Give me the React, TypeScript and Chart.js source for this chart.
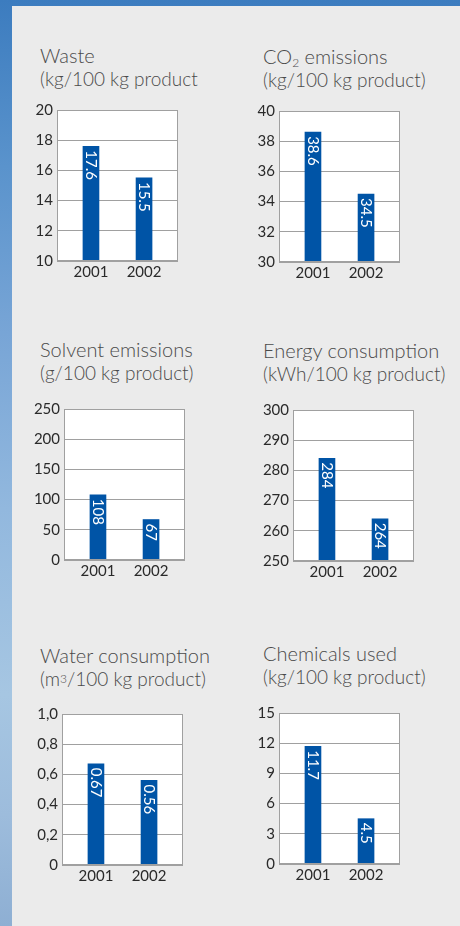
import React, { useEffect, useRef } from "react";
import { Chart, registerables } from "chart.js";

Chart.register(...registerables);

const years = ["2001", "2002"];

const wasteValues = [17.6, 15.5];
const wasteTicks = [10, 12, 14, 16, 18, 20];
const wasteTickLabels = ["10", "12", "14", "16", "18", "20"];

const co2Values = [38.6, 34.5];
const co2Ticks = [30, 32, 34, 36, 38, 40];
const co2TickLabels = ["30", "32", "34", "36", "38", "40"];

const solventValues = [108, 67];
const solventTicks = [0, 50, 100, 150, 200, 250];
const solventTickLabels = ["0", "50", "100", "150", "200", "250"];

const energyValues = [284, 264];
const energyTicks = [250, 260, 270, 280, 290, 300];
const energyTickLabels = ["250", "260", "270", "280", "290", "300"];

const waterValues = [0.67, 0.56];
const waterTicks = [0, 0.2, 0.4, 0.6, 0.8, 1.0];
const waterTickLabels = ["0", "0,2", "0,4", "0,6", "0,8", "1,0"];
const waterValueLabels = ["0.67", "0.56"];

const chemValues = [11.7, 4.5];
const chemTicks = [0, 3, 6, 9, 12, 15];
const chemTickLabels = ["0", "3", "6", "9", "12", "15"];

const FONT = "Lato, 'Open Sans', sans-serif";
const BAR = "#0054a6";
const GRID = "#a0a0a0";

const Y_W = 44;
const PAD_TOP = 10;
const X_H = 26;
const PLOT_W = 121;
const PLOT_H = 151;

type MiniProps = {
  values: number[];
  ticks: number[];
  tickLabels: string[];
  valueLabels?: string[];
  plotLeft: number;
  plotTop: number;
};

const framePlugin = {
  id: "frame",
  beforeDraw(chart: any) {
    const { ctx, chartArea } = chart;
    ctx.save();
    ctx.fillStyle = "#ffffff";
    ctx.fillRect(chartArea.left, chartArea.top, chartArea.right - chartArea.left, chartArea.bottom - chartArea.top);
    ctx.restore();
  },
  afterDraw(chart: any) {
    const { ctx, chartArea } = chart;
    ctx.save();
    ctx.strokeStyle = GRID;
    ctx.lineWidth = 1;
    const l = Math.round(chartArea.left) + 0.5;
    const t = Math.round(chartArea.top) + 0.5;
    const r = Math.round(chartArea.right) - 0.5;
    const b = Math.round(chartArea.bottom) - 0.5;
    ctx.strokeRect(l, t, r - l, b - t);
    ctx.restore();
  },
};

const barLabelPlugin = {
  id: "barLabels",
  afterDatasetsDraw(chart: any) {
    const { ctx } = chart;
    const meta = chart.getDatasetMeta(0);
    const labels: string[] = chart.options.plugins.barLabels.labels;
    ctx.save();
    ctx.fillStyle = "#ffffff";
    ctx.font = `15px ${FONT}`;
    ctx.textAlign = "left";
    ctx.textBaseline = "middle";
    meta.data.forEach((bar: any, i: number) => {
      ctx.save();
      ctx.translate(bar.x, bar.y + 4);
      ctx.rotate(Math.PI / 2);
      ctx.fillText(labels[i], 0, 0);
      ctx.restore();
    });
    ctx.restore();
  },
};

function MiniChart({ values, ticks, tickLabels, valueLabels, plotLeft, plotTop }: MiniProps) {
  const ref = useRef<HTMLCanvasElement>(null);
  useEffect(() => {
    if (!ref.current) return;
    const labelsForBars = valueLabels || values.map((v) => String(v));
    const chart = new Chart(ref.current, {
      type: "bar",
      data: {
        datasets: [
          {
            data: values.map((v, i) => ({ x: i, y: v })),
            backgroundColor: BAR,
            borderWidth: 0,
            barThickness: 16,
          },
        ],
      },
      options: {
        animation: false,
        responsive: false,
        maintainAspectRatio: false,
        layout: { padding: { top: PAD_TOP, right: 0, left: 0, bottom: 0 } },
        plugins: {
          legend: { display: false },
          tooltip: { enabled: false },
          barLabels: { labels: labelsForBars },
        } as any,
        scales: {
          x: {
            type: "linear",
            offset: false,
            min: -0.64,
            max: 1.64,
            afterBuildTicks: (scale: any) => {
              scale.ticks = years.map((_, i) => ({ value: i }));
            },
            afterFit: (scale: any) => {
              scale.height = X_H;
              scale.paddingLeft = 0;
              scale.paddingRight = 0;
            },
            ticks: {
              padding: 2,
              color: "#2a2a2a",
              font: { family: FONT, size: 15 },
              callback: (v: any) => years[v as number] ?? "",
              autoSkip: false,
              maxRotation: 0,
            },
            grid: { display: false, drawTicks: false, offset: false },
            border: { display: false },
          },
          y: {
            min: ticks[0],
            max: ticks[ticks.length - 1],
            afterBuildTicks: (scale: any) => {
              scale.ticks = ticks.map((v) => ({ value: v }));
            },
            afterFit: (scale: any) => {
              scale.width = Y_W;
              scale.paddingTop = 0;
              scale.paddingBottom = 0;
            },
            ticks: {
              padding: 4,
              color: "#2a2a2a",
              font: { family: FONT, size: 15 },
              callback: (_v: any, idx: number) => tickLabels[idx],
              autoSkip: false,
            },
            grid: { color: GRID, lineWidth: 1, drawTicks: false },
            border: { display: false },
          },
        },
      },
      plugins: [framePlugin, barLabelPlugin],
    });
    return () => chart.destroy();
  }, []);
  const w = Y_W + PLOT_W;
  const h = PAD_TOP + PLOT_H + X_H;
  return (
    <canvas
      ref={ref}
      width={w}
      height={h}
      style={{ position: "absolute", left: plotLeft - Y_W, top: plotTop - PAD_TOP, width: w, height: h }}
    />
  );
}

const titleStyle: React.CSSProperties = {
  position: "absolute",
  fontFamily: FONT,
  fontWeight: 300,
  fontSize: 19,
  lineHeight: "23px",
  color: "#4a4a4a",
  whiteSpace: "nowrap",
};

function Title({ left, top, line1, line2 }: { left: number; top: number; line1: React.ReactNode; line2: React.ReactNode }) {
  return (
    <div style={{ ...titleStyle, left, top }}>
      <div style={{ fontSize: 20 }}>{line1}</div>
      <div>{line2}</div>
    </div>
  );
}

export default function App() {
  return (
    <div
      style={{
        position: "absolute",
        left: 0,
        top: 0,
        width: 460,
        height: 926,
        overflow: "hidden",
        background:
          "linear-gradient(to bottom, #3c7cbf 0%, #5a93cc 18%, #78a5d6 36%, #92b8de 55%, #a6c6e2 75%, #9dbcdc 88%, #8eafd3 100%)",
      }}
    >
      <div style={{ position: "absolute", left: 12, top: 6, width: 448, height: 920, background: "#ebebeb" }} />

      <Title left={40} top={44} line1="Waste" line2="(kg/100 kg product" />
      <MiniChart values={wasteValues} ticks={wasteTicks} tickLabels={wasteTickLabels} plotLeft={57} plotTop={110} />

      <Title
        left={263}
        top={45}
        line1={
          <>
            CO<sub style={{ fontSize: 12, verticalAlign: "-3px", lineHeight: 0 }}>2</sub> emissions
          </>
        }
        line2="(kg/100 kg product)"
      />
      <MiniChart values={co2Values} ticks={co2Ticks} tickLabels={co2TickLabels} plotLeft={279} plotTop={111} />

      <Title left={40} top={338} line1="Solvent emissions" line2="(g/100 kg product)" />
      <MiniChart values={solventValues} ticks={solventTicks} tickLabels={solventTickLabels} plotLeft={64} plotTop={409} />

      <Title left={263} top={339} line1="Energy consumption" line2="(kWh/100 kg product)" />
      <MiniChart values={energyValues} ticks={energyTicks} tickLabels={energyTickLabels} plotLeft={293} plotTop={410} />

      <Title
        left={40}
        top={644}
        line1="Water consumption"
        line2={
          <>
            (m<sup style={{ fontSize: 12, verticalAlign: "3px", lineHeight: 0 }}>3</sup>/100 kg product)
          </>
        }
      />
      <MiniChart
        values={waterValues}
        ticks={waterTicks}
        tickLabels={waterTickLabels}
        valueLabels={waterValueLabels}
        plotLeft={62}
        plotTop={714}
      />

      <Title left={263} top={642} line1="Chemicals used" line2="(kg/100 kg product)" />
      <MiniChart values={chemValues} ticks={chemTicks} tickLabels={chemTickLabels} plotLeft={279} plotTop={713} />
    </div>
  );
}
